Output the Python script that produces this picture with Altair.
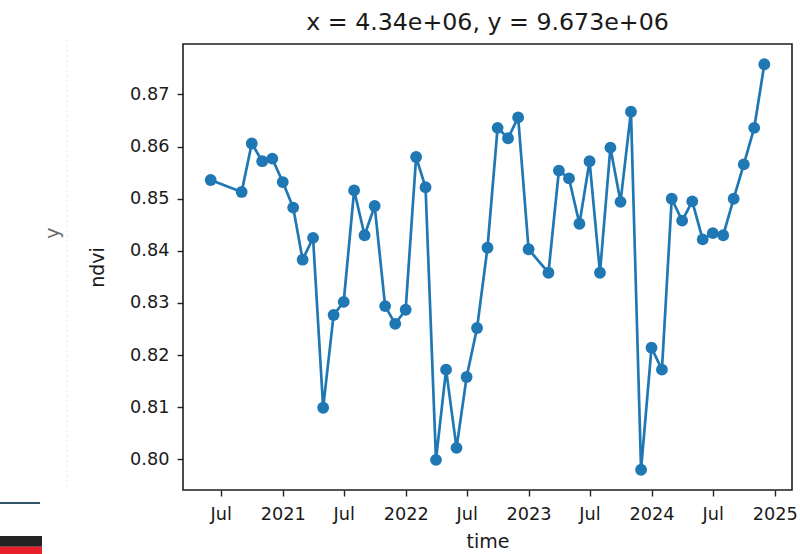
import altair as alt
import pandas as pd

# ---- data ----
months = [
    "2020-06-01", "2020-09-01", "2020-10-01", "2020-11-01", "2020-12-01",
    "2021-01-01", "2021-02-01", "2021-03-01", "2021-04-01", "2021-05-01",
    "2021-06-01", "2021-07-01", "2021-08-01", "2021-09-01", "2021-10-01",
    "2021-11-01", "2021-12-01", "2022-01-01", "2022-02-01", "2022-03-01",
    "2022-04-01", "2022-05-01", "2022-06-01", "2022-07-01", "2022-08-01",
    "2022-09-01", "2022-10-01", "2022-11-01", "2022-12-01", "2023-01-01",
    "2023-03-01", "2023-04-01", "2023-05-01", "2023-06-01", "2023-07-01",
    "2023-08-01", "2023-09-01", "2023-10-01", "2023-11-01", "2023-12-01",
    "2024-01-01", "2024-02-01", "2024-03-01", "2024-04-01", "2024-05-01",
    "2024-06-01", "2024-07-01", "2024-08-01", "2024-09-01", "2024-10-01",
    "2024-11-01", "2024-12-01",
]
ndvi = [
    0.8536, 0.8513, 0.8606, 0.8572, 0.8577,
    0.8532, 0.8483, 0.8383, 0.8425, 0.8099,
    0.8277, 0.8302, 0.8516, 0.8430, 0.8486,
    0.8294, 0.8260, 0.8287, 0.8580, 0.8522,
    0.7999, 0.8172, 0.8022, 0.8158, 0.8252,
    0.8406, 0.8636, 0.8616, 0.8656, 0.8403,
    0.8358, 0.8554, 0.8539, 0.8452, 0.8572,
    0.8358, 0.8598, 0.8494, 0.8667, 0.7980,
    0.8214, 0.8172, 0.8500, 0.8458, 0.8495,
    0.8422, 0.8434, 0.8430, 0.8500, 0.8566,
    0.8636, 0.8758,
]
x_tick_dates = [
    "2020-07-01", "2021-01-01", "2021-07-01", "2022-01-01", "2022-07-01",
    "2023-01-01", "2023-07-01", "2024-01-01", "2024-07-01", "2025-01-01",
]
y_ticks = [0.80, 0.81, 0.82, 0.83, 0.84, 0.85, 0.86, 0.87]
title_text = "x = 4.34e+06, y = 9.673e+06"

df = pd.DataFrame({"time": months, "ndvi": ndvi})

# matplotlib-like 5% margins
t = pd.to_datetime(pd.Series(months), utc=True)
span = t.max() - t.min()
ms = lambda ts: int(ts.value // 10**6)
x_domain = [ms(t.min() - 0.05 * span), ms(t.max() + 0.05 * span)]
rng = max(ndvi) - min(ndvi)
y_domain = [min(ndvi) - 0.05 * rng, max(ndvi) + 0.05 * rng]
x_values = [ms(pd.Timestamp(d, tz="UTC")) for d in x_tick_dates]

FONT = "DejaVu Sans"
BLUE = "#1f77b4"
INK = "#1a1a1a"

x_enc = alt.X(
    "time:T",
    scale=alt.Scale(type="utc", domain=x_domain, nice=False),
    axis=alt.Axis(
        values=x_values,
        labelExpr="utcFormat(datum.value, '%m') == '01' ? utcFormat(datum.value, '%Y') : utcFormat(datum.value, '%b')",
        title="time",
        grid=False,
        domain=False,
        tickSize=6,
        tickWidth=1.4,
        tickColor="#222222",
        labelFontSize=17.7,
        labelFont=FONT,
        labelColor=INK,
        labelPadding=9,
        labelFlush=False,
        labelOverlap=False,
        titleFontSize=19,
        titleFont=FONT,
        titleFontWeight="normal",
        titleColor=INK,
        titlePadding=10,
    ),
)
y_enc = alt.Y(
    "ndvi:Q",
    scale=alt.Scale(domain=y_domain, zero=False, nice=False),
    axis=alt.Axis(
        values=y_ticks,
        format=".2f",
        title="ndvi",
        grid=False,
        domain=False,
        tickSize=6,
        tickWidth=1.4,
        tickColor="#222222",
        labelFontSize=17.7,
        labelFont=FONT,
        labelColor=INK,
        labelPadding=8,
        labelFlush=False,
        labelOverlap=False,
        titleFontSize=19,
        titleFont=FONT,
        titleFontWeight="normal",
        titleColor=INK,
        titlePadding=22,
    ),
)

base = alt.Chart(df)
line = base.mark_line(color=BLUE, strokeWidth=2.7).encode(x=x_enc, y=y_enc)
points = base.mark_circle(color=BLUE, size=140, opacity=1).encode(x=x_enc, y=y_enc)

one = alt.Data(values=[{"k": 1}])
ylab = alt.Chart(one).mark_text(
    text="y", angle=270, font=FONT, fontSize=19, color="#6a6a6a"
).encode(x=alt.value(-130), y=alt.value(189))
faint = alt.Chart(one).mark_rule(color="#eeeeee", strokeWidth=1.5, strokeDash=[2, 3]).encode(
    x=alt.value(-116), y=alt.value(-4), y2=alt.value(446)
)
dark_line = alt.Chart(one).mark_rule(color="#2f5468", strokeWidth=2).encode(
    x=alt.value(-183), x2=alt.value(-143), y=alt.value(459)
)
black_bar = alt.Chart(one).mark_rect(color="#232323").encode(
    x=alt.value(-183), x2=alt.value(-141), y=alt.value(492), y2=alt.value(502.7)
)
red_bar = alt.Chart(one).mark_rect(color="#e8202a").encode(
    x=alt.value(-183), x2=alt.value(-141), y=alt.value(502.7), y2=alt.value(512)
)

chart = (
    alt.layer(line, points, ylab, faint, dark_line, black_bar, red_bar)
    .properties(
        width=609,
        height=446,
        title=alt.TitleParams(
            title_text,
            font=FONT,
            fontSize=23.7,
            fontWeight="normal",
            color=INK,
            anchor="middle",
            offset=5,
        ),
        autosize=alt.AutoSizeParams(type="none"),
        padding={"left": 183, "top": 44, "right": 8, "bottom": 64},
    )
    .configure(background="white")
    .configure_view(stroke="#1e1e1e", strokeWidth=1.6)
)

chart.save("out.html", embed_options={"renderer": "svg", "actions": False})
